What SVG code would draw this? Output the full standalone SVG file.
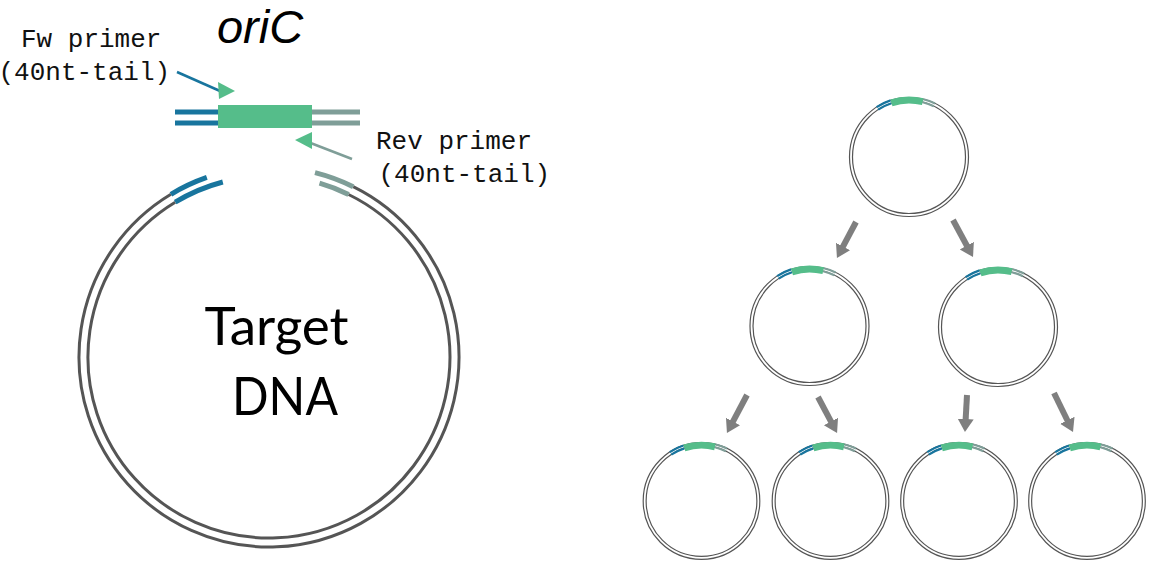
<svg xmlns="http://www.w3.org/2000/svg" xmlns:xlink="http://www.w3.org/1999/xlink" width="1152" height="562" viewBox="0 0 1152 562">
<style>
.mono{font-family:"Liberation Mono","Courier New",monospace;font-size:26px;fill:#111}
.sans{font-family:Lato,"Liberation Sans",sans-serif;fill:#000}
.ital{font-family:"Liberation Sans",Arial,sans-serif;font-style:italic;fill:#000}
.ring{fill:none;stroke:#555;stroke-width:3}
.sring{fill:none;stroke:#555;stroke-width:1.2}
.blue{fill:none;stroke:#18759e}
.teal{fill:none;stroke:#7f9e98}
.green{fill:none;stroke:#55bd8a}
.arrow{stroke:#7f7f7f;stroke-width:6;fill:none;marker-end:url(#ah)}
</style>
<defs>
<marker id="ah" markerUnits="userSpaceOnUse" markerWidth="14" markerHeight="17" refX="5" refY="8" orient="auto" viewBox="0 0 14 17">
<path d="M0,0 L13,8 L0,16 z" fill="#7f7f7f"/>
</marker>
<g id="plasmid">
<circle r="59.5" class="sring"/>
<circle r="56.5" class="sring"/>
<path class="blue" stroke-width="2.2" d="M-32.4,-49.9 A59.5,59.5 0 0 1 -18.4,-56.6"/>
<path class="blue" stroke-width="2.2" d="M-30.8,-47.4 A56.5,56.5 0 0 1 -17.5,-53.7"/>
<path class="green" stroke-width="7" d="M-17.6,-54.2 A57,57 0 0 1 13.8,-55.3"/>
<path class="teal" stroke-width="2.2" d="M14.4,-57.7 A59.5,59.5 0 0 1 26.1,-53.5"/>
<path class="teal" stroke-width="2.2" d="M13.7,-54.8 A56.5,56.5 0 0 1 24.8,-50.8"/>
</g>
</defs>
<rect width="1152" height="562" fill="#fff"/>

<g id="oriC-construct">
<text class="ital" x="260" y="43" font-size="47" text-anchor="middle">oriC</text>
<line class="blue" stroke-width="5" x1="175" y1="112" x2="219" y2="112"/>
<line class="blue" stroke-width="5" x1="175" y1="123" x2="219" y2="123"/>
<line class="teal" stroke-width="5" x1="311" y1="112" x2="360" y2="112"/>
<line class="teal" stroke-width="5" x1="311" y1="123" x2="360" y2="123"/>
<rect x="218" y="105" width="94" height="23" fill="#55bd8a"/>
</g>

<g id="fw-primer">
<text class="mono" x="21" y="47">Fw primer</text>
<text class="mono" x="-1.5" y="80">(40nt-tail)</text>
<line class="blue" stroke-width="2.5" x1="177" y1="72" x2="220" y2="91"/>
<polygon points="218,82 235,91 219,99" fill="#55bd8a"/>
</g>

<g id="rev-primer">
<text class="mono" x="376" y="149">Rev primer</text>
<text class="mono" x="378.5" y="182">(40nt-tail)</text>
<line class="teal" stroke-width="2.5" x1="308" y1="142" x2="352" y2="159"/>
<polygon points="295,140 312,132 312,149" fill="#55bd8a"/>
</g>

<g id="target-dna">
<path class="ring" d="M353.2,186.7 A190,190 0 1 1 170.9,194.3"/>
<path class="ring" d="M348.6,194.5 A181,181 0 1 1 175.2,202.2"/>
<path class="blue" stroke-width="5" d="M170.9,194.3 A190,190 0 0 1 206.8,177.4"/>
<path class="blue" stroke-width="5" d="M175.2,202.2 A181,181 0 0 1 222.8,182.0"/>
<path class="teal" stroke-width="5" d="M315.0,172.6 A190,190 0 0 1 353.2,186.7"/>
<path class="teal" stroke-width="5" d="M319.5,183.2 A181,181 0 0 1 348.6,194.5"/>
<text class="sans" x="276.5" y="345" font-size="53" text-anchor="middle">Target</text>
<text class="sans" x="285" y="415" font-size="53" text-anchor="middle" textLength="106" lengthAdjust="spacingAndGlyphs">DNA</text>
</g>

<g id="plasmid-1"><use xlink:href="#plasmid" href="#plasmid" transform="translate(909,157)"/></g>
<g id="plasmid-2"><use xlink:href="#plasmid" href="#plasmid" transform="translate(809.5,326)"/></g>
<g id="plasmid-3"><use xlink:href="#plasmid" href="#plasmid" transform="translate(998,327)"/></g>
<g id="plasmid-4"><use xlink:href="#plasmid" href="#plasmid" transform="translate(701.5,501) scale(0.98)"/></g>
<g id="plasmid-5"><use xlink:href="#plasmid" href="#plasmid" transform="translate(830.5,501) scale(0.98)"/></g>
<g id="plasmid-6"><use xlink:href="#plasmid" href="#plasmid" transform="translate(959,501) scale(0.98)"/></g>
<g id="plasmid-7"><use xlink:href="#plasmid" href="#plasmid" transform="translate(1087,501) scale(0.98)"/></g>

<g id="connectors">
<line class="arrow" x1="856" y1="222" x2="840.7" y2="250.9"/>
<line class="arrow" x1="953" y1="220" x2="969.2" y2="250"/>
<line class="arrow" x1="747" y1="395" x2="730.7" y2="425.9"/>
<line class="arrow" x1="818" y1="397" x2="833.3" y2="425.9"/>
<line class="arrow" x1="967" y1="395" x2="965.4" y2="424"/>
<line class="arrow" x1="1054" y1="393" x2="1069.5" y2="424.8"/>
</g>
</svg>
